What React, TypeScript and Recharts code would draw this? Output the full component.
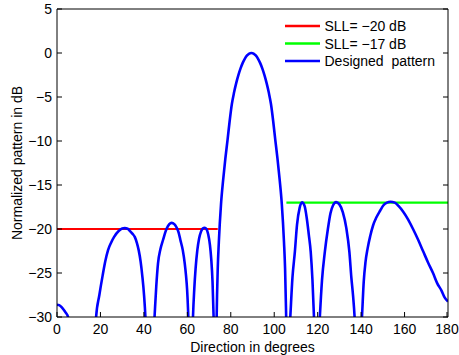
import React from "react";
import { Legend, Line, LineChart, XAxis, YAxis } from "recharts";

// designed pattern (deg, dB); values under -30 are clipped
const patternDeg = [
  0, 1, 2, 3, 4, 5.1, 6.3, 7.5, 16.5, 17.3, 18, 19.5, 21, 22.2, 23.5, 25, 26.3,
  28.5, 30, 31.2, 32.5, 33.5, 34.8, 35.8, 36.8, 37.6, 38.5, 39.3, 40.1, 40.7,
  41.3, 42.5, 44, 44.9, 45.7, 46.5, 47.6, 48.8, 50.5, 51.7, 52.8, 54, 55, 56,
  56.8, 57.9, 58.8, 59.4, 59.9, 60.3, 60.7, 61.4, 62.2, 62.6, 63.2, 63.8, 64.6,
  65.4, 66.3, 67.1, 68, 68.8, 69.6, 70.4, 71, 71.6, 72.1, 72.6, 73, 73.2, 73.5,
  74, 74.5, 75.5, 76.5, 77.5, 78.5, 79.5, 80.5, 81.5, 82.5, 83.5, 84.5, 85.5,
  86.5, 87.5, 88.5, 89.5, 90.5, 91.5, 92.5, 93.5, 94.5, 95.5, 96.5, 97.5, 98.5,
  99.5, 100.5, 101.5, 102.5, 103.5, 104.5, 105, 105.5, 105.9, 106.2, 106.5,
  107.4, 108.4, 109.5, 110.5, 111.7, 112.8, 114, 115, 115.9, 116.8, 117.6,
  118.3, 119, 119.7, 120.2, 121, 122, 123.3, 124.7, 125.9, 127.1, 128.5, 130,
  131.6, 133.2, 134.6, 135.5, 136.3, 137, 137.8, 138.7, 139.4, 140.4, 141.2,
  142, 143, 144.2, 145.5, 147, 148.8, 150.3, 151.9, 153.5, 155.5, 157.3, 159.3,
  161.6, 163.9, 166.2, 168.5, 170.8, 173.1, 175, 177, 178.5, 180,
];
const patternDb = [
  -28.6, -28.65, -28.85, -29.15, -29.5, -30, -32, -38, -38, -33, -30, -27.5,
  -25.3, -23.7, -22.4, -21.5, -20.9, -20.2, -19.95, -19.9, -19.97, -20.2,
  -20.55, -20.9, -21.6, -22.4, -23.7, -25.4, -27.6, -30, -34, -45, -34, -30,
  -26.5, -23.9, -22.3, -21.25, -19.95, -19.45, -19.3, -19.45, -19.8, -20.4,
  -21.25, -22.4, -23.9, -25.3, -26.9, -29, -32, -42, -33.5, -30, -26.8, -24.5,
  -22.4, -21.1, -20.3, -19.95, -19.85, -20, -20.6, -21.8, -23.4, -26, -30, -35,
  -40, -36, -30, -24.5, -21.5, -17.2, -14.4, -12, -9.9, -7.7, -5.8, -4.5,
  -3.43, -2.52, -1.75, -1.12, -0.63, -0.28, -0.07, 0, -0.07, -0.28, -0.63,
  -1.12, -1.75, -2.52, -3.43, -4.5, -5.8, -7.7, -9.9, -12, -14.4, -17.2,
  -21.5, -24.5, -30, -35, -40, -34, -30, -25.5, -22.6, -19.5, -17.6, -16.97,
  -17.4, -18.8, -20.6, -22.6, -25.8, -30, -36, -42, -34, -30, -25.8, -22.6,
  -20, -18.2, -17.3, -16.95, -17.2, -18.1, -19.9, -22.6, -25.5, -27.6, -30,
  -35, -42, -34, -30, -26, -23.8, -22.2, -20.8, -19.6, -18.7, -17.9, -17.3,
  -17, -16.9, -17, -17.4, -18, -18.9, -20, -21.2, -22.5, -23.8, -25, -26.15,
  -27, -27.8, -28.25, -28.6,
];

// side lobe level limits
const sllLowDeg = [0, 74];
const sllLowDb = [-20, -20];
const sllHighDeg = [105.6, 180];
const sllHighDb = [-17, -17];

const xTicks = [0, 20, 40, 60, 80, 100, 120, 140, 160, 180];
const yTicks = [5, 0, -5, -10, -15, -20, -25, -30];
const legendOrder = ["SLL= \u221220 dB", "SLL= \u221217 dB", "Designed  pattern"];

const patternData = patternDeg.map((deg, i) => ({ deg, db: patternDb[i] }));
const sllLowData = sllLowDeg.map((deg, i) => ({ deg, db: sllLowDb[i] }));
const sllHighData = sllHighDeg.map((deg, i) => ({ deg, db: sllHighDb[i] }));

const font = '"Liberation Sans", Arial, sans-serif';
const fmt = (v: number) => (v < 0 ? "\u2212" + Math.abs(v) : String(v));

const BottomTick = ({ x, y, payload }: any) => (
  <g>
    <line x1={x} x2={x} y1={y} y2={y - 5} stroke="#000" />
    <text x={x} y={y + 17} textAnchor="middle" fontSize={14} fontFamily={font} fill="#000">
      {payload.value}
    </text>
  </g>
);
const TopTick = ({ x, y }: any) => <line x1={x} x2={x} y1={y} y2={y + 5} stroke="#000" />;
const LeftTick = ({ x, y, payload }: any) => (
  <g>
    <line x1={x} x2={x + 5} y1={y} y2={y} stroke="#000" />
    <text x={x - 5} y={y + 5} textAnchor="end" fontSize={14} fontFamily={font} fill="#000">
      {fmt(payload.value)}
    </text>
  </g>
);
const RightTick = ({ x, y }: any) => <line x1={x} x2={x - 5} y1={y} y2={y} stroke="#000" />;

const YTitle = ({ viewBox }: any) => {
  const cx = viewBox.x + 17;
  const cy = viewBox.y + viewBox.height / 2;
  return (
    <text
      x={cx}
      y={cy}
      transform={`rotate(-90 ${cx} ${cy})`}
      textAnchor="middle"
      dominantBaseline="central"
      fontSize={14}
      fontFamily={font}
      fill="#000"
    >
      Normalized pattern in dB
    </text>
  );
};

const LegendBox = ({ payload }: any) => {
  const items = [...(payload || [])].sort(
    (a: any, b: any) => legendOrder.indexOf(a.value) - legendOrder.indexOf(b.value)
  );
  return (
    <svg width={165} height={54} style={{ display: "block" }}>
      {items.map((p: any, i: number) => (
        <g key={p.value}>
          <line x1={0} x2={35} y1={9 + i * 17.5} y2={9 + i * 17.5} stroke={p.color} strokeWidth={2.5} />
          <text
            x={39.5}
            y={14 + i * 17.5}
            fontSize={14}
            fontFamily={font}
            fill="#000"
            style={{ whiteSpace: "pre" }}
          >
            {p.value}
          </text>
        </g>
      ))}
    </svg>
  );
};

export default function App() {
  return (
    <div style={{ position: "absolute", left: 0, top: 0, background: "#fff" }}>
      <LineChart width={459} height={355} margin={{ top: 0, right: 0, bottom: 0, left: 0 }}>
        <XAxis
          xAxisId="bottom"
          dataKey="deg"
          type="number"
          domain={[0, 180]}
          ticks={xTicks}
          height={38}
          tickSize={0}
          tickMargin={0}
          tick={<BottomTick />}
          axisLine={{ stroke: "#000" }}
          allowDataOverflow
          label={{
            value: "Direction in degrees",
            position: "insideBottom",
            offset: 3,
            fontSize: 14,
            fontFamily: font,
            fill: "#000",
          }}
        />
        <XAxis
          xAxisId="top"
          orientation="top"
          type="number"
          domain={[0, 180]}
          ticks={xTicks}
          height={9}
          tickSize={0}
          tickMargin={0}
          tick={<TopTick />}
          axisLine={{ stroke: "#000" }}
          allowDataOverflow
        />
        <YAxis
          yAxisId="left"
          type="number"
          domain={[-30, 5]}
          ticks={yTicks}
          width={57}
          tickSize={0}
          tickMargin={0}
          tick={<LeftTick />}
          axisLine={{ stroke: "#000" }}
          allowDataOverflow
          label={<YTitleLabel />}
        />
        <YAxis
          yAxisId="right"
          orientation="right"
          type="number"
          domain={[-30, 5]}
          ticks={yTicks}
          width={11}
          tickSize={0}
          tickMargin={0}
          tick={<RightTick />}
          axisLine={{ stroke: "#000" }}
          allowDataOverflow
        />
        <Legend
          layout="vertical"
          align="center"
          verticalAlign="middle"
          content={<LegendBox />}
          wrapperStyle={{ left: 285, top: 17, width: 165, height: 54 }}
        />
        <Line
          xAxisId="bottom"
          yAxisId="left"
          data={sllLowData}
          dataKey="db"
          name={legendOrder[0]}
          stroke="#ff0000"
          strokeWidth={2.2}
          dot={false}
          activeDot={false}
          isAnimationActive={false}
        />
        <Line
          xAxisId="bottom"
          yAxisId="left"
          data={sllHighData}
          dataKey="db"
          name={legendOrder[1]}
          stroke="#00ff00"
          strokeWidth={2.2}
          dot={false}
          activeDot={false}
          isAnimationActive={false}
        />
        <Line
          xAxisId="bottom"
          yAxisId="left"
          data={patternData}
          dataKey="db"
          name={legendOrder[2]}
          type="monotone"
          stroke="#0000ff"
          strokeWidth={2.6}
          dot={false}
          activeDot={false}
          isAnimationActive={false}
        />
      </LineChart>
    </div>
  );
}

function YTitleLabel(props: any) {
  return <YTitle viewBox={props.viewBox} />;
}
